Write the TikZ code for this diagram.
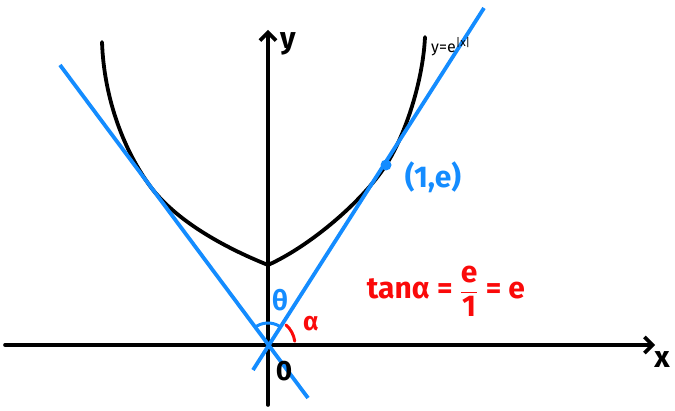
\documentclass[tikz,border=0pt]{standalone}
\usepackage{fontspec}
\usepackage{amsmath}
\setmainfont{Fira Sans}
\usetikzlibrary{arrows.meta}
\definecolor{myblue}{RGB}{20,140,255}
\definecolor{myred}{RGB}{250,10,10}
\begin{document}
\begin{tikzpicture}[x=1pt,y=-1pt,
  axis/.style={line width=3.6pt,line cap=round,-{Straight Barb[length=8pt,width=16pt,line width=3.6pt]}},
  curve/.style={line width=3.8pt,line cap=round,line join=round},
  tline/.style={line width=3.8pt,myblue},
  lbl/.style={inner sep=0pt}]
\useasboundingbox (0,0) rectangle (675,411);
\coordinate (O) at (268,345);
\coordinate (xs) at (5,345);
\coordinate (xe) at (655,345);
\coordinate (ys) at (268,405);
\coordinate (ye) at (268,30);
\draw[axis] (xs) -- (xe);
\draw[axis] (ys) -- (ye);
% curve y = e^{|x|}
\coordinate (c0) at (102,42);
\coordinate (cL) at (150,186);
\coordinate (cM) at (268,265);
\coordinate (P) at (386,165);
\coordinate (c1) at (425,37);
\draw[curve] (c0) .. controls (104,100) and (125,152) .. (cL)
  .. controls (175,220) and (223,247) .. (cM)
  .. controls (310,246) and (362,202) .. (P)
  .. controls (406,134) and (423,80) .. (c1);
% tangent lines
\coordinate (a1) at (60,65);
\coordinate (a2) at (308,398);
\coordinate (b1) at (253,370);
\coordinate (b2) at (484,8);
\draw[tline] (a1) -- (a2);
\draw[tline] (b1) -- (b2);
\node[circle,fill=myblue,inner sep=0pt,minimum size=11pt] (Pdot) at (P) {};
% angle arcs
\draw[line width=3pt,myblue] ([shift={(56:22pt)}]O) arc[start angle=56,end angle=128,radius=22pt];
\draw[line width=3pt,myred,line cap=round] ([shift={(8:27pt)}]O) arc[start angle=8,end angle=48,radius=27pt];
% labels
\node[lbl,text=myblue,font=\bfseries\fontsize{28}{28}\selectfont] (th) at (280,300) {θ};
\node[lbl,text=myred,font=\bfseries\fontsize{26}{26}\selectfont] (al) at (311,324) {α};
\node[lbl,font=\bfseries\fontsize{28}{28}\selectfont] (zero) at (284,371) {0};
\node[lbl,font=\bfseries\fontsize{30}{30}\selectfont] (ylab) at (288,44) {y};
\node[lbl,font=\bfseries\fontsize{30}{30}\selectfont] (xlab) at (662,360) {x};
\node[lbl,text=myblue,font=\bfseries\fontsize{30}{30}\selectfont] (pl) at (433,177) {(1,e)};
\node[lbl,font=\fontsize{16}{16}\selectfont,anchor=west] (fl) at (431,47) {y=e\textsuperscript{|x|}};
\node[lbl,text=myred,font=\bfseries\fontsize{30}{30}\selectfont] (f) at (446,291) {tanα = $\dfrac{\text{e}}{\text{1}}$ = e};
\end{tikzpicture}
\end{document}
